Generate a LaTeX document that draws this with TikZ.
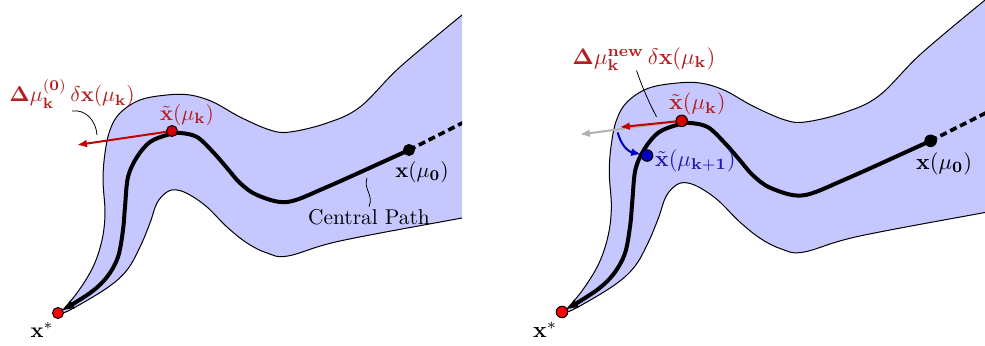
\documentclass[tikz,border=0pt]{standalone}
\usepackage{amsmath,bm}
\usetikzlibrary{arrows.meta}
\definecolor{bandfill}{RGB}{199,199,255}
\definecolor{lblred}{RGB}{180,30,30}
\definecolor{arrred}{RGB}{195,0,0}
\definecolor{dotred}{RGB}{215,0,0}
\definecolor{starred}{RGB}{250,0,0}
\definecolor{lblblue}{RGB}{30,30,170}
\definecolor{dotblue}{RGB}{0,0,190}
\tikzset{
  bandline/.style={draw=black, line width=0.5pt},
  cpath/.style={line width=2pt, line cap=round, -{Latex[length=6pt,width=5pt]}, shorten >=2.5pt},
  dashline/.style={line width=1.8pt, dash pattern=on 3.5pt off 2pt},
  dotnode/.style={circle, inner sep=0pt, minimum size=5.5pt, draw=black, line width=0.5pt},
  blackdot/.style={dotnode, fill=black},
  reddot/.style={dotnode, fill=dotred},
  stardot/.style={dotnode, fill=starred},
  bluedot/.style={dotnode, fill=dotblue},
  stepred/.style={draw=arrred, line width=1pt, -{Latex[length=5pt,width=4pt]}},
  stepgray/.style={draw=black!30, line width=1pt, -{Latex[length=5pt,width=4pt]}},
  stepblue/.style={draw=dotblue, line width=1pt, -{Latex[length=5pt,width=4pt]}, shorten >=3pt},
  pointer/.style={draw=black, line width=0.4pt},
  lbl/.style={inner sep=1pt, scale=1.07},
}
\newcommand{\panelbase}{%
  \coordinate (xs) at (0,0);
  \coordinate (x0) at (351,-163);
  \coordinate (xk) at (114,-182);
  \coordinate (dashend) at (440,-208);
  \begin{scope}
    \clip (-60,-330) rectangle (404,60);
    \fill[bandfill] plot[smooth,tension=0.6] coordinates {(404,-298) (342,-246) (302,-206) (269,-190) (232,-181) (212,-183) (182,-196) (155,-211) (132,-218) (109,-218) (82,-213) (62,-200) (52,-183) (47,-160) (45,-133) (47,-100) (44,-73) (35,-46) (19,-20) (2,0)}
      -- plot[smooth,tension=0.6] coordinates {(2,0) (12,-3) (49,-25) (69,-43) (82,-66) (92,-90) (99,-110) (109,-121) (119,-123) (132,-118) (149,-106) (169,-86) (189,-70) (209,-60) (230,-57) (282,-72) (404,-95) (430,-100)}
      -- (430,-320) -- cycle;
    \draw[bandline] plot[smooth,tension=0.6] coordinates {(404,-298) (342,-246) (302,-206) (269,-190) (232,-181) (212,-183) (182,-196) (155,-211) (132,-218) (109,-218) (82,-213) (62,-200) (52,-183) (47,-160) (45,-133) (47,-100) (44,-73) (35,-46) (19,-20) (2,0)};
    \draw[bandline] plot[smooth,tension=0.6] coordinates {(2,0) (12,-3) (49,-25) (69,-43) (82,-66) (92,-90) (99,-110) (109,-121) (119,-123) (132,-118) (149,-106) (169,-86) (189,-70) (209,-60) (230,-57) (282,-72) (404,-95) (430,-100)};
    \draw[dashline] (x0) -- (dashend);
  \end{scope}
  \draw[cpath] plot[smooth,tension=0.55] coordinates {(x0) (269,-126) (229,-111) (199,-118) (182,-130) (169,-145) (155,-161) (139,-176) (122,-180) (109,-178) (92,-171) (79,-156) (70,-136) (67,-106) (65,-83) (60,-56) (49,-36) (32,-20) (xs)};
}
\newcommand{\paneldots}{%
  \node[blackdot] (nx0) at (x0) {};
  \node[reddot] (nxk) at (xk) {};
  \node[stardot] (nxs) at (xs) {};
  \node[lbl] (lx0) at (364,-141) {$\mathbf{x}(\mu_{\mathbf{0}})$};
  \node[lbl, text=lblred] (lxk) at (129,-198) {$\tilde{\mathbf{x}}(\mu_{\mathbf{k}})$};
  \node[lbl] (lxs) at (-16,17) {$\mathbf{x}^{*}$};
}
\begin{document}
\begin{tikzpicture}[x=0.5pt,y=-0.5pt]
\useasboundingbox (0,0) rectangle (985,346);
% ---------- left panel ----------
\begin{scope}[shift={(58,313)}]
  \panelbase
  \coordinate (tipA) at (19,-168);
  \draw[stepred] (xk) -- (tipA);
  \paneldots
  \node[lbl, text=lblred, anchor=base] (ldelta) at (14,-211) {$\mathbf{\Delta}\mu_{\mathbf{k}}^{\mathbf{(0)}}\,\delta\mathbf{x}(\mu_{\mathbf{k}})$};
  \coordinate (pA) at (39,-178);
  \draw[pointer] (ldelta.south) .. controls (28,-204) and (38,-192) .. (pA);
  \node[lbl] (lcp) at (311,-96) {Central Path};
  \coordinate (pC) at (309,-135);
  \draw[pointer] (lcp.north) .. controls (316,-118) and (305,-124) .. (pC);
\end{scope}
% ---------- right panel ----------
\begin{scope}[shift={(562,312)}, scale=1.05, transform shape]
  \panelbase
  \coordinate (tipG) at (17,-169);
  \coordinate (tipR) at (55,-176);
  \coordinate (xk1) at (81,-149);
  \coordinate (bstart) at (53,-171);
  \draw[stepgray] (xk) -- (tipG);
  \draw[stepred] (xk) -- (tipR);
  \draw[stepblue] (bstart) .. controls (56,-160) and (62,-153) .. (xk1);
  \paneldots
  \node[bluedot] (nxk1) at (xk1) {};
  \node[lbl, text=lblblue] (lxk1) at (127,-144) {$\tilde{\mathbf{x}}(\mu_{\mathbf{k+1}})$};
  \node[lbl, text=lblred, anchor=base] (rdelta) at (78,-236) {$\mathbf{\Delta}\mu_{\mathbf{k}}^{\mathbf{new}}\,\delta\mathbf{x}(\mu_{\mathbf{k}})$};
  \coordinate (pR) at (90,-186);
  \draw[pointer] (71,-230) .. controls (76,-215) and (83,-199) .. (pR);
\end{scope}
\end{tikzpicture}
\end{document}
